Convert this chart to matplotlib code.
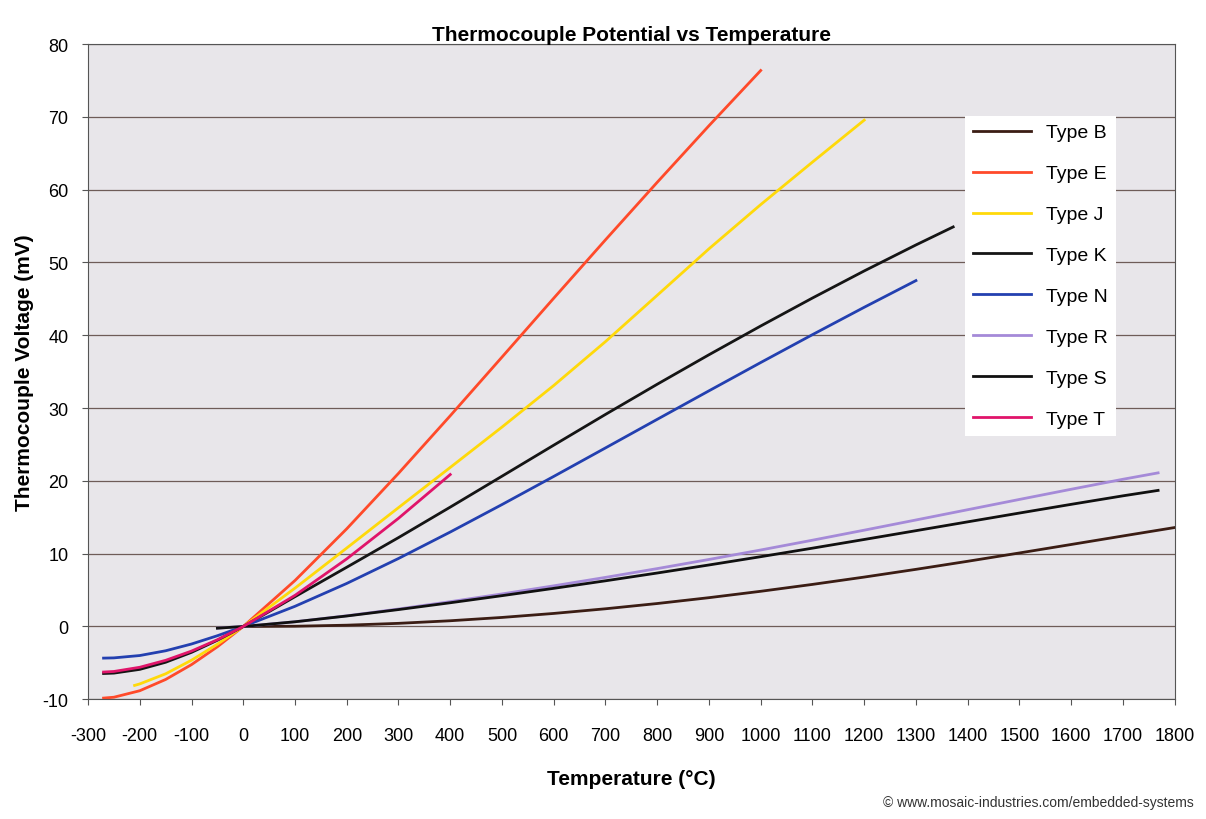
import numpy as np
import matplotlib
matplotlib.use('Agg')
import matplotlib.pyplot as plt

plt.rcParams['font.family'] = ['Liberation Sans', 'DejaVu Sans']
plt.rcParams['axes.unicode_minus'] = False

# thermocouple tables, temperature (C) -> emf (mV)
t_B = [0, 100, 200, 300, 400, 500, 600, 700, 800, 900, 1000, 1100, 1200, 1300, 1400, 1500, 1600, 1700, 1800, 1820]
v_B = [0, 0.033, 0.178, 0.431, 0.787, 1.242, 1.792, 2.431, 3.154, 3.957, 4.834, 5.780, 6.786, 7.848, 8.956, 10.099, 11.263, 12.433, 13.591, 13.820]

t_E = [-270, -250, -200, -150, -100, -50, 0, 100, 200, 300, 400, 500, 600, 700, 800, 900, 1000]
v_E = [-9.835, -9.718, -8.825, -7.279, -5.237, -2.787, 0, 6.319, 13.421, 21.036, 28.946, 37.005, 45.093, 53.112, 61.017, 68.787, 76.373]

t_J = [-210, -200, -150, -100, -50, 0, 100, 200, 300, 400, 500, 600, 700, 800, 900, 1000, 1100, 1200]
v_J = [-8.095, -7.890, -6.500, -4.633, -2.431, 0, 5.269, 10.779, 16.327, 21.848, 27.393, 33.102, 39.132, 45.494, 51.877, 57.953, 63.792, 69.553]

t_K = [-270, -250, -200, -150, -100, -50, 0, 100, 200, 300, 400, 500, 600, 700, 800, 900, 1000, 1100, 1200, 1300, 1372]
v_K = [-6.458, -6.404, -5.891, -4.913, -3.554, -1.889, 0, 4.096, 8.138, 12.209, 16.397, 20.644, 24.905, 29.129, 33.275, 37.326, 41.276, 45.119, 48.838, 52.410, 54.886]

t_N = [-270, -250, -200, -150, -100, -50, 0, 100, 200, 300, 400, 500, 600, 700, 800, 900, 1000, 1100, 1200, 1300]
v_N = [-4.345, -4.313, -3.990, -3.336, -2.407, -1.269, 0, 2.774, 5.913, 9.341, 12.974, 16.748, 20.613, 24.527, 28.455, 32.371, 36.256, 40.087, 43.846, 47.513]

t_R = [-50, 0, 100, 200, 300, 400, 500, 600, 700, 800, 900, 1000, 1100, 1200, 1300, 1400, 1500, 1600, 1700, 1768]
v_R = [-0.226, 0, 0.647, 1.469, 2.401, 3.408, 4.471, 5.583, 6.743, 7.950, 9.205, 10.506, 11.850, 13.228, 14.629, 16.040, 17.451, 18.849, 20.222, 21.101]

t_S = [-50, 0, 100, 200, 300, 400, 500, 600, 700, 800, 900, 1000, 1100, 1200, 1300, 1400, 1500, 1600, 1700, 1768]
v_S = [-0.236, 0, 0.646, 1.441, 2.323, 3.259, 4.233, 5.239, 6.275, 7.345, 8.449, 9.587, 10.757, 11.951, 13.159, 14.373, 15.582, 16.777, 17.947, 18.693]

t_T = [-270, -250, -200, -150, -100, -50, 0, 100, 200, 300, 400]
v_T = [-6.258, -6.180, -5.603, -4.648, -3.379, -1.819, 0, 4.279, 9.288, 14.862, 20.872]

series = [('Type B', t_B, v_B, '#3b1d14'),
          ('Type E', t_E, v_E, '#ff4a2a'),
          ('Type J', t_J, v_J, '#ffd90a'),
          ('Type K', t_K, v_K, '#151515'),
          ('Type N', t_N, v_N, '#2340b0'),
          ('Type R', t_R, v_R, '#a58ad8'),
          ('Type S', t_S, v_S, '#101010'),
          ('Type T', t_T, v_T, '#e0146a')]

fig = plt.figure(figsize=(12.06, 8.2), dpi=100)
ax = fig.add_axes([0.073, 0.146, 0.901, 0.799])
ax.set_facecolor('#e8e6ea')

for name, t, v, c in series:
    ax.plot(t, v, color=c, lw=2, label=name)

ax.set_xlim(-300, 1800)
ax.set_ylim(-10, 80)
ax.set_xticks(np.arange(-300, 1801, 100))
ax.set_yticks(np.arange(-10, 81, 10))
ax.yaxis.grid(True, color='#6e5c58', lw=0.9)
ax.set_axisbelow(True)
ax.tick_params(labelsize=13, length=4, color='#555555')
ax.tick_params(axis='x', pad=16)
ax.tick_params(axis='y', pad=10)
for s in ax.spines.values():
    s.set_color('#555555')

ax.set_title('Thermocouple Potential vs Temperature', fontsize=15, fontweight='bold', pad=3)
ax.set_xlabel('Temperature (°C)', fontsize=15, fontweight='bold', labelpad=18)
ax.set_ylabel('Thermocouple Voltage (mV)', fontsize=15, fontweight='bold', labelpad=6)

leg = ax.legend(loc='upper right', bbox_to_anchor=(0.955, 0.905), fontsize=14,
                handlelength=3, labelspacing=1.2, frameon=True, fancybox=False,
                facecolor='white', edgecolor='none', framealpha=1)

fig.text(0.99, 0.012, '© www.mosaic-industries.com/embedded-systems', ha='right',
         va='bottom', fontsize=10, color='#333333')

fig.savefig('out.png', dpi=100)
